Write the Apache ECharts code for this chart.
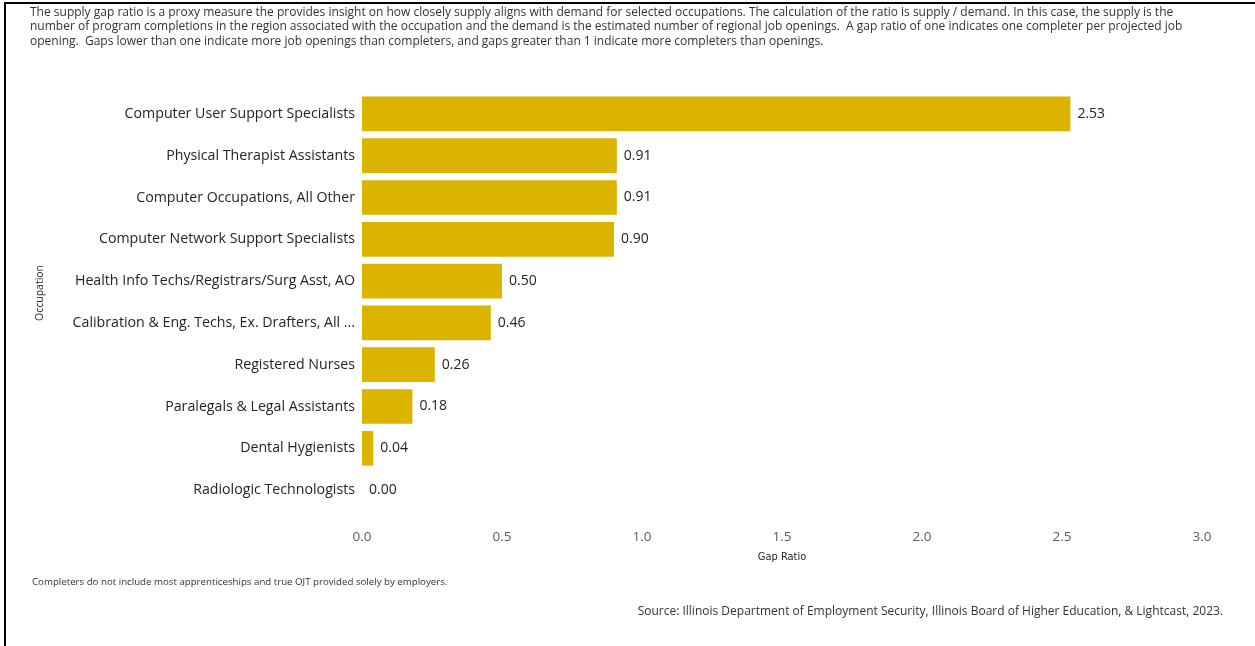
<!DOCTYPE html>
<html>
<head>
<meta charset="utf-8">
<script src="https://cdn.jsdelivr.net/npm/echarts@6/dist/echarts.min.js"></script>
<style>
  html, body { margin: 0; padding: 0; background: #ffffff; }
  #chart { width: 1255px; height: 646px; }
</style>
</head>
<body>
<div id="chart"></div>
<script>
// Occupations, listed top to bottom
const occupations = [
  'Computer User Support Specialists',
  'Physical Therapist Assistants',
  'Computer Occupations, All Other',
  'Computer Network Support Specialists',
  'Health Info Techs/Registrars/Surg Asst, AO',
  'Calibration & Eng. Techs, Ex. Drafters, All ...',
  'Registered Nurses',
  'Paralegals & Legal Assistants',
  'Dental Hygienists',
  'Radiologic Technologists'
];

// Supply gap ratio (completers / projected openings)
const gapRatios = [2.53, 0.91, 0.91, 0.90, 0.50, 0.46, 0.26, 0.18, 0.04, 0.00];

// Value-axis tick labels
const ratioTicks = ['0.0', '0.5', '1.0', '1.5', '2.0', '2.5', '3.0'];

const introLines = [
  'The supply gap ratio is a proxy measure the provides insight on how closely supply aligns with demand for selected occupations. The calculation of the ratio is supply / demand. In this case, the supply is the',
  'number of program completions in the region associated with the occupation and the demand is the estimated number of regional job openings.  A gap ratio of one indicates one completer per projected job',
  'opening.  Gaps lower than one indicate more job openings than completers, and gaps greater than 1 indicate more completers than openings.'
];
const footnote = 'Completers do not include most apprenticeships and true OJT provided solely by employers.';
const sourceNote = 'Source: Illinois Department of Employment Security, Illinois Board of Higher Education, & Lightcast, 2023.';

const FONT = '"Open Sans", "Noto Sans", sans-serif';

const chart = echarts.init(document.getElementById('chart'), null, { renderer: 'canvas' });

chart.setOption({
  backgroundColor: '#ffffff',
  animation: false,
  textStyle: { fontFamily: FONT },
  grid: { left: 362, right: 53, top: 93, bottom: 135, containLabel: false },
  xAxis: {
    type: 'value',
    min: 0,
    max: 3,
    interval: 0.5,
    name: 'Gap Ratio',
    nameLocation: 'middle',
    nameGap: 41,
    nameTextStyle: { fontFamily: '"DejaVu Sans Condensed", "Liberation Sans Narrow", sans-serif', fontSize: 11, color: '#252423' },
    axisLine: { show: false },
    axisTick: { show: false },
    splitLine: { show: false },
    axisLabel: {
      fontSize: 13.5,
      color: '#605e5c',
      margin: 19,
      formatter: (v) => ratioTicks[Math.round(v / 0.5)]
    }
  },
  yAxis: {
    type: 'category',
    data: occupations,
    inverse: true,
    axisLine: { show: false },
    axisTick: { show: false },
    splitLine: { show: false },
    axisLabel: { fontSize: 14.2, color: '#252423', margin: 7 }
  },
  series: [{
    type: 'bar',
    data: gapRatios,
    barCategoryGap: '17%',
    itemStyle: { color: '#dbb400' },
    label: {
      show: true,
      position: 'right',
      distance: 7,
      fontSize: 14,
      color: '#252423',
      formatter: (p) => p.value.toFixed(2)
    }
  }],
  graphic: [
    // frame edges
    { type: 'rect', shape: { x: 4, y: 2, width: 1251, height: 2 }, style: { fill: '#000000' }, silent: true },
    { type: 'rect', shape: { x: 4, y: 2, width: 2, height: 644 }, style: { fill: '#000000' }, silent: true },
    // value-axis title for the category axis
    {
      type: 'text', x: 40, y: 293, rotation: Math.PI / 2,
      style: { text: 'Occupation', fontSize: 10.5, fill: '#252423', fontFamily: FONT, align: 'center', verticalAlign: 'middle' }
    },
    {
      type: 'text', left: 30, top: 5,
      style: { text: introLines.join('\n'), fontSize: 12, lineHeight: 14.5, fill: '#333333', fontFamily: FONT }
    },
    {
      type: 'text', left: 32, top: 577,
      style: { text: footnote, fontSize: 9.7, fill: '#333333', fontFamily: FONT }
    },
    {
      type: 'text', right: 32, top: 606,
      style: { text: sourceNote, fontSize: 12, fill: '#333333', fontFamily: FONT, textAlign: 'right' }
    }
  ]
});
</script>
</body>
</html>
